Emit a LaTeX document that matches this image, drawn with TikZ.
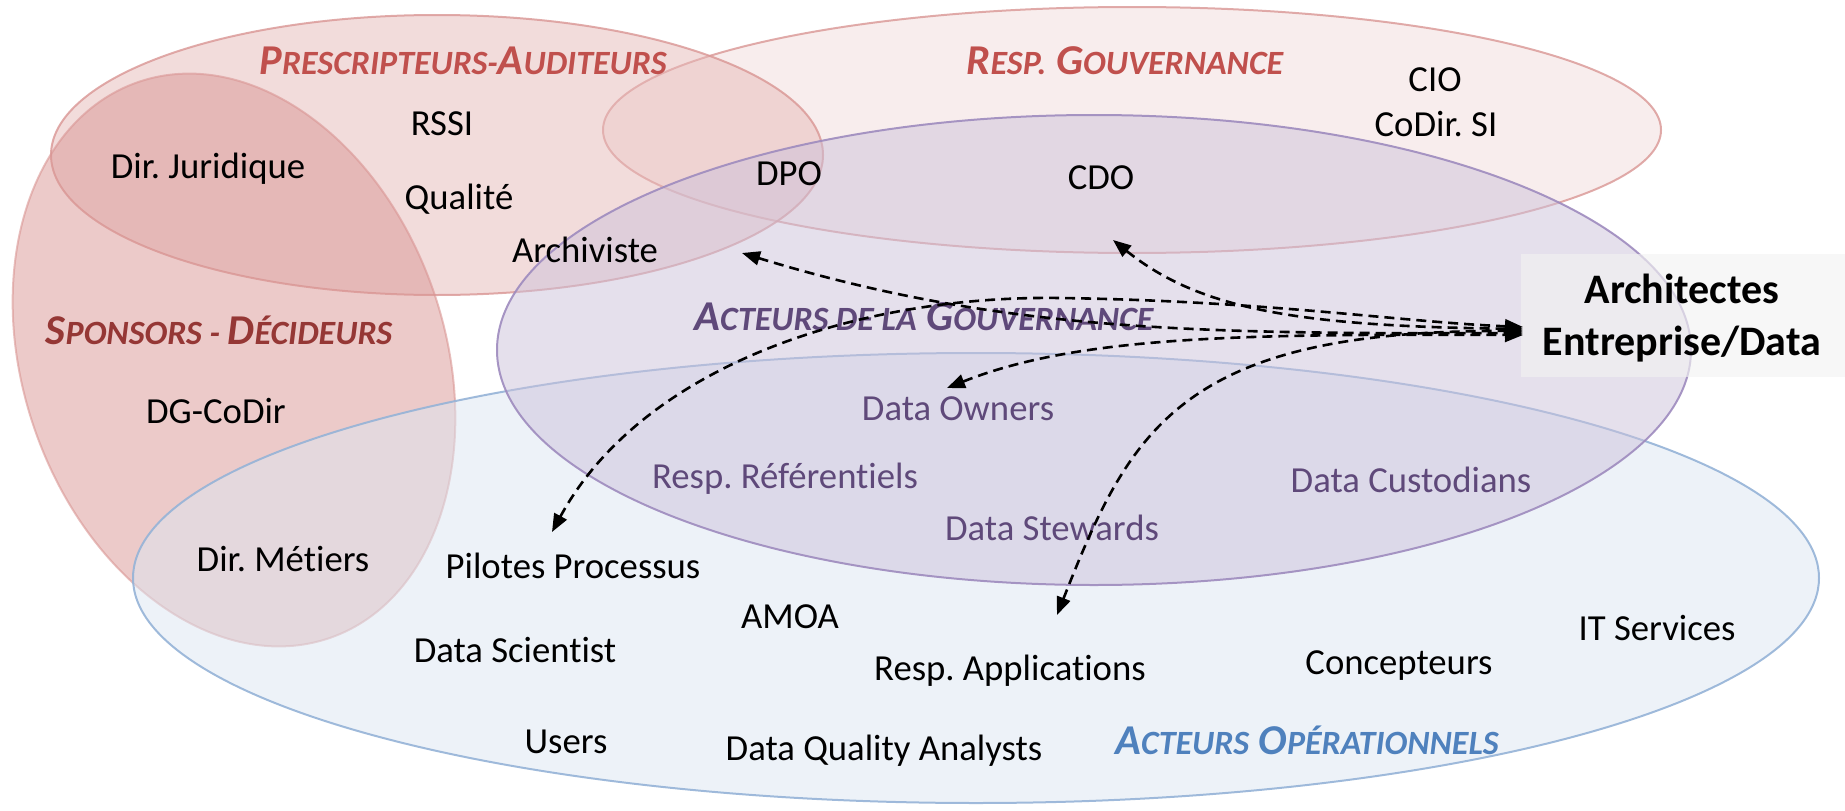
\documentclass[tikz,border=0pt]{standalone}
\usepackage{fontspec}
\setmainfont{Carlito}[Ligatures=NoCommon]
\usetikzlibrary{arrows.meta}
\frenchspacing
\definecolor{fillA}{HTML}{E6B9B8}
\definecolor{fillB}{HTML}{F2DCDB}
\definecolor{fillC}{HTML}{D99694}
\definecolor{fillD}{HTML}{CCC1DA}
\definecolor{fillE}{HTML}{DCE6F2}
\definecolor{lineRed}{HTML}{D99694}
\definecolor{linePurple}{HTML}{9E8BBE}
\definecolor{lineBlue}{HTML}{95B3D7}
\definecolor{redLbl}{HTML}{C0504D}
\definecolor{darkRedLbl}{HTML}{953735}
\definecolor{purpleTxt}{HTML}{5F497A}
\definecolor{blueLbl}{HTML}{4F81BD}
\definecolor{boxFill}{HTML}{F2F2F2}
\newcommand\smc[1]{{\fontsize{34pt}{36pt}\selectfont #1}}
\tikzset{
  setA/.style={fill=fillA, fill opacity=0.5, draw=lineRed, draw opacity=0.8, line width=2pt},
  setB/.style={fill=fillB, fill opacity=0.5, draw=lineRed, draw opacity=0.8, line width=2pt},
  setC/.style={fill=fillC, fill opacity=0.5, draw=lineRed, draw opacity=0.6, line width=2pt},
  setD/.style={fill=fillD, fill opacity=0.5, draw=linePurple, draw opacity=0.9, line width=2pt},
  setE/.style={fill=fillE, fill opacity=0.5, draw=lineBlue, draw opacity=0.9, line width=2pt},
  txt/.style={anchor=base, inner sep=0pt, font=\fontsize{36.7pt}{40pt}\selectfont\frenchspacing, text=black},
  ptxt/.style={txt, text=purpleTxt},
  lbl/.style={anchor=base, inner sep=0pt, font=\bfseries\itshape\fontsize{42.5pt}{44pt}\selectfont\frenchspacing},
  arr/.style={draw=black, line width=2.6pt, dash pattern=on 10pt off 6pt,
    {Triangle[length=18pt,width=14pt]}-{Triangle[length=18pt,width=14pt]}},
}
\begin{document}
\begin{tikzpicture}[x=1pt,y=-1pt]
\useasboundingbox (0,0) rectangle (1845,811);
% sets
\path[setB] (1132,130) ellipse [x radius=529pt, y radius=123pt];
\path[setA] (437,155) ellipse [x radius=386pt, y radius=140pt];
\path[setC, rotate around={19:(234,360)}] (234,360) ellipse [x radius=211pt, y radius=294pt];
\path[setE] (976,578) ellipse [x radius=843pt, y radius=225pt];
\path[setD] (1094,350) ellipse [x radius=597pt, y radius=235pt];
% architect box
\node[fill=boxFill, fill opacity=0.65, text opacity=1, minimum width=324pt, minimum height=123pt, inner sep=0pt, anchor=north west] (arch) at (1521,254) {};
\node[anchor=base, inner sep=0pt, font=\bfseries\fontsize{42pt}{44pt}\selectfont] (arch1) at (1682,303) {Architectes};
\node[anchor=base, inner sep=0pt, font=\bfseries\fontsize{42pt}{44pt}\selectfont] (arch2) at (1682,355) {Entreprise/Data};
% labels
\node[lbl, text=redLbl] (lPres) at (463,74) {P\smc{RESCRIPTEURS-}A\smc{UDITEURS}};
\node[lbl, text=redLbl] (lResp) at (1125,74) {R\smc{ESP.} G\smc{OUVERNANCE}};
\node[lbl, text=darkRedLbl] (lSpon) at (219,344) {S\smc{PONSORS - }D\smc{ÉCIDEURS}};
\node[lbl, text=purpleTxt] (lGouv) at (924,330) {A\smc{CTEURS DE LA} G\smc{OUVERNANCE}};
\node[lbl, text=blueLbl] (lOper) at (1307,754) {A\smc{CTEURS} O\smc{PÉRATIONNELS}};
% black texts
\node[txt] (rssi) at (442,135) {RSSI};
\node[txt] (jur) at (208,178) {Dir. Juridique};
\node[txt] (qual) at (459,209) {Qualité};
\node[txt] (archiv) at (585,262) {Archiviste};
\node[txt] (dpo) at (789,185) {DPO};
\node[txt] (cdo) at (1101,189) {CDO};
\node[txt] (cio) at (1435,91) {CIO};
\node[txt] (codir) at (1436,136) {CoDir. SI};
\node[txt] (dg) at (216,423) {DG-CoDir};
\node[txt] (metiers) at (283,571) {Dir. Métiers};
\node[txt] (pilotes) at (573,578) {Pilotes Processus};
\node[txt] (amoa) at (790,628) {AMOA};
\node[txt] (scient) at (515,662) {Data Scientist};
\node[txt] (respapp) at (1010,680) {Resp. Applications};
\node[txt] (concep) at (1399,674) {Concepteurs};
\node[txt] (itserv) at (1657,640) {IT Services};
\node[txt] (users) at (566,753) {Users};
\node[txt] (dqa) at (884,760) {Data Quality Analysts};
% purple texts
\node[ptxt] (owners) at (958,420) {Data Owners};
\node[ptxt] (refer) at (785,488) {Resp. Référentiels};
\node[ptxt] (custod) at (1411,492) {Data Custodians};
\node[ptxt] (stew) at (1052,540) {Data Stewards};
% arrow ends
\coordinate (tipArchiv) at (742,253);
\coordinate (tipCdo) at (1113,240);
\coordinate (tipOwn) at (947,388);
\coordinate (tipPil) at (552,532);
\coordinate (tipApp) at (1057,615);
\coordinate (hubA) at (1523,333);
\coordinate (hubC) at (1523,329);
\coordinate (hubO) at (1523,335);
\coordinate (hubP) at (1523,327);
\coordinate (hubR) at (1523,331);
% arrows
\draw[arr] (tipArchiv) .. controls (1000,332) and (1200,334) .. (hubA);
\draw[arr] (tipCdo) .. controls (1200,310) and (1300,326) .. (hubC);
\draw[arr] (tipOwn) .. controls (1080,335) and (1250,334) .. (hubO);
\draw[arr] (tipPil) .. controls (640,370) and (850,295) .. (1060,298) .. controls (1270,301) and (1400,322) .. (hubP);
\draw[arr] (tipApp) .. controls (1130,430) and (1180,330) .. (hubR);
\end{tikzpicture}
\end{document}
